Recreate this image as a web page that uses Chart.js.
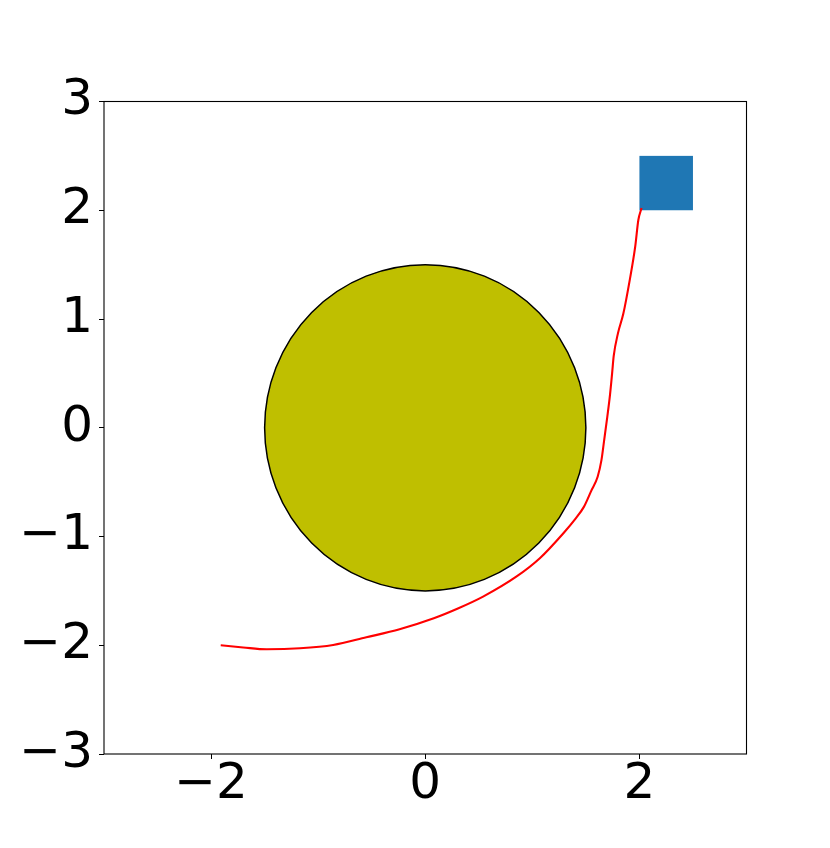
<!DOCTYPE html>
<html>
<head>
<meta charset="utf-8">
<script src="https://cdn.jsdelivr.net/npm/chart.js@4"></script>
<style>
  html, body { margin: 0; padding: 0; background: #fff; }
  #wrap { width: 830px; height: 848px; }
</style>
</head>
<body>
<div id="wrap"><canvas id="graphCanvas" width="830" height="848"></canvas></div>
<script>
// path taken by the robot
var pathX = [-1.91, -1.70, -1.48, -1.17, -0.86, -0.55, -0.24, 0.08, 0.31, 0.54, 0.85, 1.07,
             1.29, 1.40, 1.48, 1.55, 1.61, 1.645, 1.67, 1.70, 1.725, 1.745, 1.76, 1.80,
             1.85, 1.91, 1.96, 1.99, 2.02];
var pathY = [-2.00, -2.02, -2.037, -2.028, -1.998, -1.927, -1.853, -1.752, -1.66, -1.553, -1.37, -1.20,
             -0.97, -0.84, -0.73, -0.58, -0.45, -0.30, -0.12, 0.10, 0.30, 0.50, 0.66, 0.87,
             1.05, 1.36, 1.66, 1.91, 2.02];

// obstacle (circle) and goal (square)
var obstacle = [0, 0, 1.5];      // x, y, radius
var goal = [2, 2, 0.5];          // lower-left x, y, side

var xTicks = [-2, 0, 2];
var yTicks = [-3, -2, -1, 0, 1, 2, 3];
var axisMin = -3;
var axisMax = 3;

var points = [];
for (var i = 0; i < pathX.length; i++) {
  points.push({x: pathX[i], y: pathY[i]});
}

function minusSign(v) {
  return String(v).replace('-', '\u2212');
}

var shapesPlugin = {
  id: 'shapes',
  beforeDatasetsDraw: function(chart) {
    var ctx = chart.ctx;
    var xs = chart.scales.x;
    var ys = chart.scales.y;
    var area = chart.chartArea;
    ctx.save();
    ctx.beginPath();
    ctx.rect(area.left, area.top, area.right - area.left, area.bottom - area.top);
    ctx.clip();

    // circle obstacle in data units
    var cx = xs.getPixelForValue(obstacle[0]);
    var cy = ys.getPixelForValue(obstacle[1]);
    var rx = xs.getPixelForValue(obstacle[0] + obstacle[2]) - cx;
    var ry = cy - ys.getPixelForValue(obstacle[1] + obstacle[2]);
    ctx.beginPath();
    ctx.ellipse(cx, cy, rx, ry, 0, 0, Math.PI * 2);
    ctx.fillStyle = '#bfbf00';
    ctx.fill();
    ctx.lineWidth = 1.5;
    ctx.strokeStyle = '#000';
    ctx.stroke();

    // goal square
    var gx0 = xs.getPixelForValue(goal[0]);
    var gx1 = xs.getPixelForValue(goal[0] + goal[2]);
    var gy0 = ys.getPixelForValue(goal[1]);
    var gy1 = ys.getPixelForValue(goal[1] + goal[2]);
    ctx.fillStyle = '#1f77b4';
    ctx.fillRect(gx0, gy1, gx1 - gx0, gy0 - gy1);
    ctx.restore();
  },
  afterDraw: function(chart) {
    var ctx = chart.ctx;
    var area = chart.chartArea;
    ctx.save();
    ctx.strokeStyle = '#000';
    ctx.lineWidth = 1.1;
    ctx.strokeRect(area.left, area.top, area.right - area.left, area.bottom - area.top);
    ctx.restore();
  }
};

var bgPlugin = {
  id: 'bg',
  beforeDraw: function(chart) {
    var ctx = chart.ctx;
    ctx.save();
    ctx.fillStyle = '#fff';
    ctx.fillRect(0, 0, chart.width, chart.height);
    ctx.restore();
  }
};

var tickFont = {family: '"DejaVu Sans"', size: 50};

var canvas = document.getElementById('graphCanvas').getContext('2d');

var chart = new Chart(canvas, {
  type: 'scatter',
  data: {
    datasets: [{
      label: 'path',
      data: points,
      showLine: true,
      borderColor: '#ff0000',
      borderWidth: 2.1,
      pointRadius: 0,
      cubicInterpolationMode: 'monotone',
      fill: false
    }]
  },
  options: {
    responsive: false,
    animation: false,
    events: [],
    layout: {padding: {left: 0, right: 83.5, top: 101.5, bottom: 0}},
    plugins: {legend: {display: false}, tooltip: {enabled: false}},
    scales: {
      x: {
        type: 'linear',
        min: axisMin,
        max: axisMax,
        afterBuildTicks: function(scale) {
          scale.ticks = xTicks.map(function(v) { return {value: v}; });
        },
        afterFit: function(scale) { scale.height = 94; },
        grid: {drawOnChartArea: false, drawTicks: true, tickLength: 5, color: '#000', lineWidth: 1},
        border: {display: false},
        ticks: {
          font: tickFont,
          color: '#000',
          padding: -4,
          maxRotation: 0,
          callback: function(v) { return minusSign(v); }
        }
      },
      y: {
        type: 'linear',
        min: axisMin,
        max: axisMax,
        afterBuildTicks: function(scale) {
          scale.ticks = yTicks.map(function(v) { return {value: v}; });
        },
        afterFit: function(scale) { scale.width = 104; },
        grid: {drawOnChartArea: false, drawTicks: true, tickLength: 5, color: '#000', lineWidth: 1},
        border: {display: false},
        ticks: {
          font: tickFont,
          color: '#000',
          padding: 6,
          callback: function(v) { return minusSign(v); }
        }
      }
    }
  },
  plugins: [bgPlugin, shapesPlugin]
});
</script>
</body>
</html>
